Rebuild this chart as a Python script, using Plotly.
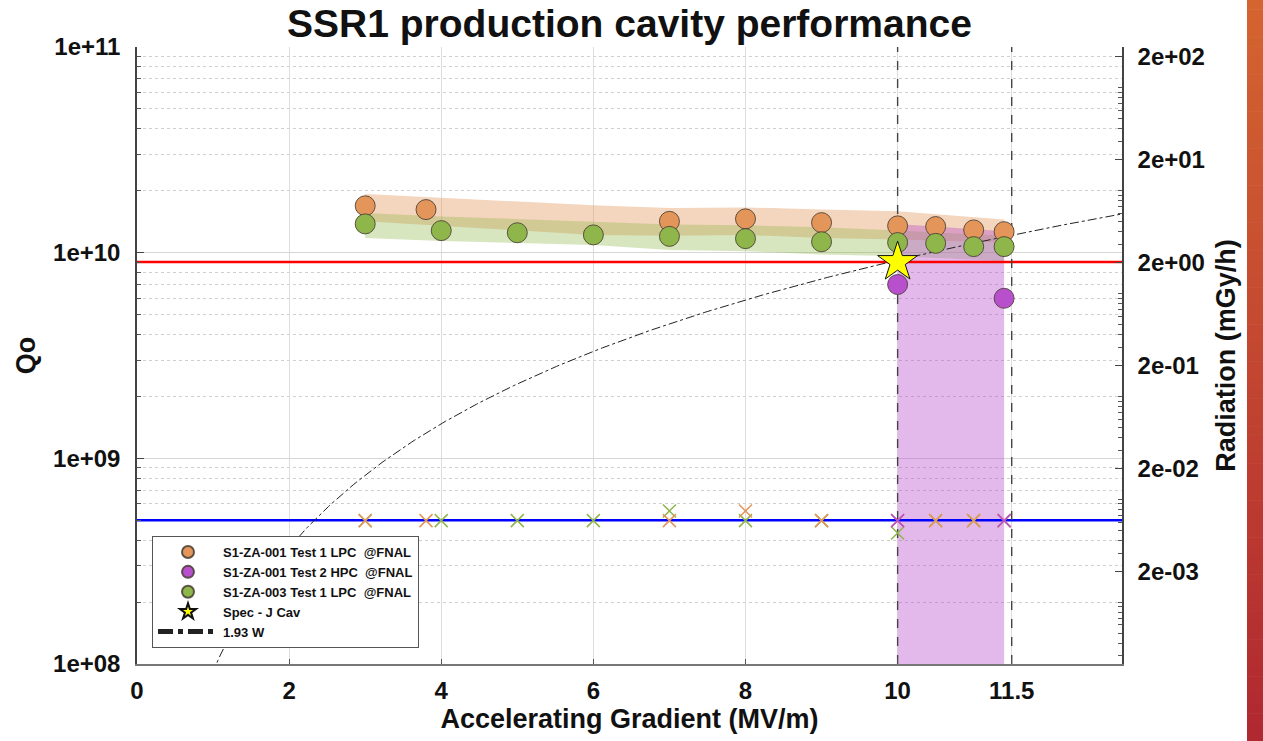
import numpy as np
import plotly.graph_objects as go

# ---- Qo vs accelerating gradient (MV/m) ----
e_za001_t1 = [3.0, 3.8, 7.0, 8.0, 9.0, 10.0, 10.5, 11.0, 11.4]
q_za001_t1 = [1.69e10, 1.62e10, 1.42e10, 1.46e10, 1.40e10, 1.35e10, 1.34e10, 1.29e10, 1.265e10]

e_za001_t2 = [10.0, 11.4]
q_za001_t2 = [7.0e9, 6.0e9]

e_za003_t1 = [3.0, 4.0, 5.0, 6.0, 7.0, 8.0, 9.0, 10.0, 10.5, 11.0, 11.4]
q_za003_t1 = [1.38e10, 1.28e10, 1.25e10, 1.22e10, 1.20e10, 1.17e10, 1.13e10, 1.12e10, 1.11e10, 1.07e10, 1.07e10]

# Spec point
e_spec = [10.0]
q_spec = [9.0e9]

# ---- Uncertainty bands ----
band_e = [3.0, 4.0, 6.0, 7.0, 8.0, 9.0, 10.0, 11.4]
band_za001_hi = [1.93e10, 1.85e10, 1.70e10, 1.65e10, 1.66e10, 1.62e10, 1.59e10, 1.45e10]
band_za001_lo = [1.42e10, 1.35e10, 1.22e10, 1.21e10, 1.22e10, 1.18e10, 1.16e10, 1.12e10]
band_za003_hi = [1.56e10, 1.50e10, 1.415e10, 1.37e10, 1.36e10, 1.33e10, 1.28e10, 1.21e10]
band_za003_lo = [1.18e10, 1.14e10, 1.09e10, 1.03e10, 1.015e10, 0.98e10, 0.96e10, 0.91e10]
band_hpc_e = [10.0, 11.4]
band_hpc_hi = [1.38e10, 1.27e10]
band_hpc_lo = [1.0e8, 1.0e8]

# ---- Radiation (mGy/h) ----
rad_e_za003 = [3.0, 4.0, 5.0, 6.0, 7.0, 8.0, 9.0, 10.0, 10.5, 11.0, 11.4]
rad_za003 = [6.2e-3, 6.2e-3, 6.2e-3, 6.2e-3, 7.7e-3, 6.2e-3, 6.2e-3, 4.7e-3, 6.2e-3, 6.2e-3, 6.2e-3]
rad_e_za001_t1 = [3.0, 3.8, 7.0, 8.0, 9.0, 10.0, 10.5, 11.0, 11.4]
rad_za001_t1 = [6.2e-3, 6.2e-3, 6.2e-3, 7.7e-3, 6.2e-3, 6.2e-3, 6.2e-3, 6.2e-3, 6.2e-3]
rad_e_za001_t2 = [10.0, 11.4]
rad_za001_t2 = [6.2e-3, 6.2e-3]

# Reference levels
q_spec_level = 9.0e9
q_low_level = 5.0e8
gradient_markers = [10.0, 11.5]

# Constant 1.93 W dissipation: Qo scales with Eacc^2
E_REF = 10.0
Q_REF_193W = 9.2e9

x_ticks = [0, 2, 4, 6, 8, 10, 11.5]
x_ticktext = ["0", "2", "4", "6", "8", "10", "11.5"]
y_ticks = [1e8, 1e9, 1e10, 1e11]
y_ticktext = ["1e+08", "1e+09", "1e+10", "1e+11"]
y2_ticks = [2e-3, 2e-2, 2e-1, 2e0, 2e1, 2e2]
y2_ticktext = ["2e-03", "2e-02", "2e-01", "2e+00", "2e+01", "2e+02"]

X_MAX = 12.95
FONT = "Liberation Sans, Arial, sans-serif"

ORANGE = "rgb(228,150,90)"
GREEN = "rgb(143,182,74)"
PURPLE = "rgb(184,80,205)"

fig = go.Figure()


def band(xs, lo, hi, color):
    fig.add_trace(go.Scatter(
        x=list(xs) + list(xs)[::-1], y=list(hi) + list(lo)[::-1],
        fill="toself", fillcolor=color, line=dict(width=0),
        mode="lines", hoverinfo="skip", showlegend=False))


band(band_e, band_za001_lo, band_za001_hi, "rgba(228,150,90,0.40)")
band(band_e, band_za003_lo, band_za003_hi, "rgba(143,182,74,0.35)")
band(band_hpc_e, band_hpc_lo, band_hpc_hi, "rgba(184,80,205,0.40)")

# Horizontal reference levels
fig.add_trace(go.Scatter(x=[0, X_MAX], y=[q_spec_level] * 2, mode="lines",
                         line=dict(color="#ff0000", width=2.5), showlegend=False, hoverinfo="skip"))
fig.add_trace(go.Scatter(x=[0, X_MAX], y=[q_low_level] * 2, mode="lines",
                         line=dict(color="#0000ff", width=2.5), showlegend=False, hoverinfo="skip"))

# Vertical dashed gradient markers
for g in gradient_markers:
    fig.add_trace(go.Scatter(x=[g, g], y=[1e8, 1e11], mode="lines",
                             line=dict(color="#444444", width=1.4, dash="dash"),
                             showlegend=False, hoverinfo="skip"))

# 1.93 W curve
E_curve = np.linspace(0.9, 13.0, 300)
Q_curve = Q_REF_193W * (E_curve / E_REF) ** 2
fig.add_trace(go.Scatter(x=E_curve, y=Q_curve, mode="lines", name="1.93 W",
                         line=dict(color="#222222", width=1, dash="dashdot"), legendrank=5))

# Radiation crosses (right axis)
for xs, ys, col in [(rad_e_za003, rad_za003, GREEN),
                    (rad_e_za001_t1, rad_za001_t1, ORANGE),
                    (rad_e_za001_t2, rad_za001_t2, PURPLE)]:
    fig.add_trace(go.Scatter(x=xs, y=ys, yaxis="y2", mode="markers", showlegend=False,
                             marker=dict(symbol="x-thin", size=13,
                                         line=dict(color=col, width=1.5)),
                             hoverinfo="skip"))

mk_line = dict(color="rgba(70,60,50,0.85)", width=1)
fig.add_trace(go.Scatter(x=e_za001_t1, y=q_za001_t1, mode="markers",
                         name="S1-ZA-001 Test 1 LPC  @FNAL", legendrank=1,
                         marker=dict(size=20, color=ORANGE, line=mk_line)))
fig.add_trace(go.Scatter(x=e_za001_t2, y=q_za001_t2, mode="markers",
                         name="S1-ZA-001 Test 2 HPC  @FNAL", legendrank=2,
                         marker=dict(size=20, color=PURPLE, line=mk_line)))
fig.add_trace(go.Scatter(x=e_za003_t1, y=q_za003_t1, mode="markers",
                         name="S1-ZA-003 Test 1 LPC  @FNAL", legendrank=3,
                         marker=dict(size=20, color=GREEN, line=mk_line)))
fig.add_trace(go.Scatter(x=e_spec, y=q_spec, mode="markers", name="Spec - J Cav", legendrank=4,
                         marker=dict(symbol="star", size=30, color="#ffff00",
                                     line=dict(color="#111111", width=1))))

# Decorative gradient strip at the right edge of the slide
L, R, T, B = 137, 1122, 47, 664
W, H = R - L, B - T
n_strip = 80
c_top = np.array([212, 100, 48])
c_bot = np.array([176, 40, 48])
for i in range(n_strip):
    t = i / (n_strip - 1)
    c = (c_top * (1 - t) + c_bot * t).round().astype(int)
    y0_px = 741 * i / n_strip
    y1_px = 741 * (i + 1) / n_strip + 0.6
    fig.add_shape(type="rect", xref="paper", yref="paper",
                  x0=(1247 - L) / W, x1=(1264 - L) / W,
                  y0=(B - y1_px) / H, y1=(B - y0_px) / H,
                  fillcolor=f"rgb({c[0]},{c[1]},{c[2]})", line=dict(width=0), layer="above")

tick_font = dict(family=FONT, size=24, color="#111111", weight="bold")
title_font = dict(family=FONT, size=27, color="#111111", weight="bold")

fig.update_layout(
    width=1263, height=741,
    margin=dict(l=L, r=1263 - R, t=T, b=741 - B),
    paper_bgcolor="white", plot_bgcolor="white",
    title=dict(text="SSR1 production cavity performance", x=0.5, xref="paper",
               y=1 - 23 / 741, yref="container", yanchor="middle", xanchor="center",
               font=dict(family=FONT, size=39, color="#111111", weight="bold")),
    xaxis=dict(range=[0, X_MAX], tickvals=x_ticks, ticktext=x_ticktext,
               tickfont=tick_font, showgrid=True, gridcolor="#dcdcdc", gridwidth=1,
               zeroline=False, showline=True, linecolor="#777777", linewidth=1.5,
               ticks="inside", ticklen=5, tickcolor="#555555", ticklabelstandoff=4,
               title=dict(text="Accelerating Gradient (MV/m)", font=title_font, standoff=6)),
    yaxis=dict(type="log", range=[8, 11], tickvals=y_ticks, ticktext=y_ticktext,
               tickfont=tick_font, showgrid=True, gridcolor="#d6d6d6", gridwidth=1,
               zeroline=False, showline=True, linecolor="#444444", linewidth=1.5,
               ticks="inside", ticklen=7, tickcolor="#444444", ticklabelstandoff=10,
               minor=dict(dtick="D1", showgrid=True, gridcolor="#cfcfcf", griddash="dot",
                          gridwidth=1, ticks="inside", ticklen=4, tickcolor="#555555"),
               title=dict(text="Qo", font=title_font, standoff=10)),
    yaxis2=dict(type="log", overlaying="y", side="right",
                range=[np.log10(2.5e-4), np.log10(2.5e2)],
                tickvals=y2_ticks, ticktext=y2_ticktext, tickfont=tick_font,
                showgrid=False, zeroline=False, showline=True, linecolor="#444444", linewidth=1.5,
                ticks="inside", ticklen=7, tickcolor="#444444", ticklabelstandoff=9,
                minor=dict(dtick="D1", ticks="inside", ticklen=4, tickcolor="#555555", showgrid=False),
                title=dict(text="Radiation (mGy/h)", font=title_font, standoff=12)),
    legend=dict(x=(152 - L) / W, y=(B - 648) / H, xanchor="left", yanchor="bottom",
                bgcolor="white", bordercolor="#555555", borderwidth=1,
                font=dict(family=FONT, size=13, color="#111111", weight="bold"),
                itemsizing="constant", itemwidth=60, tracegroupgap=0),
    showlegend=True,
)

fig.write_html("out.html")
